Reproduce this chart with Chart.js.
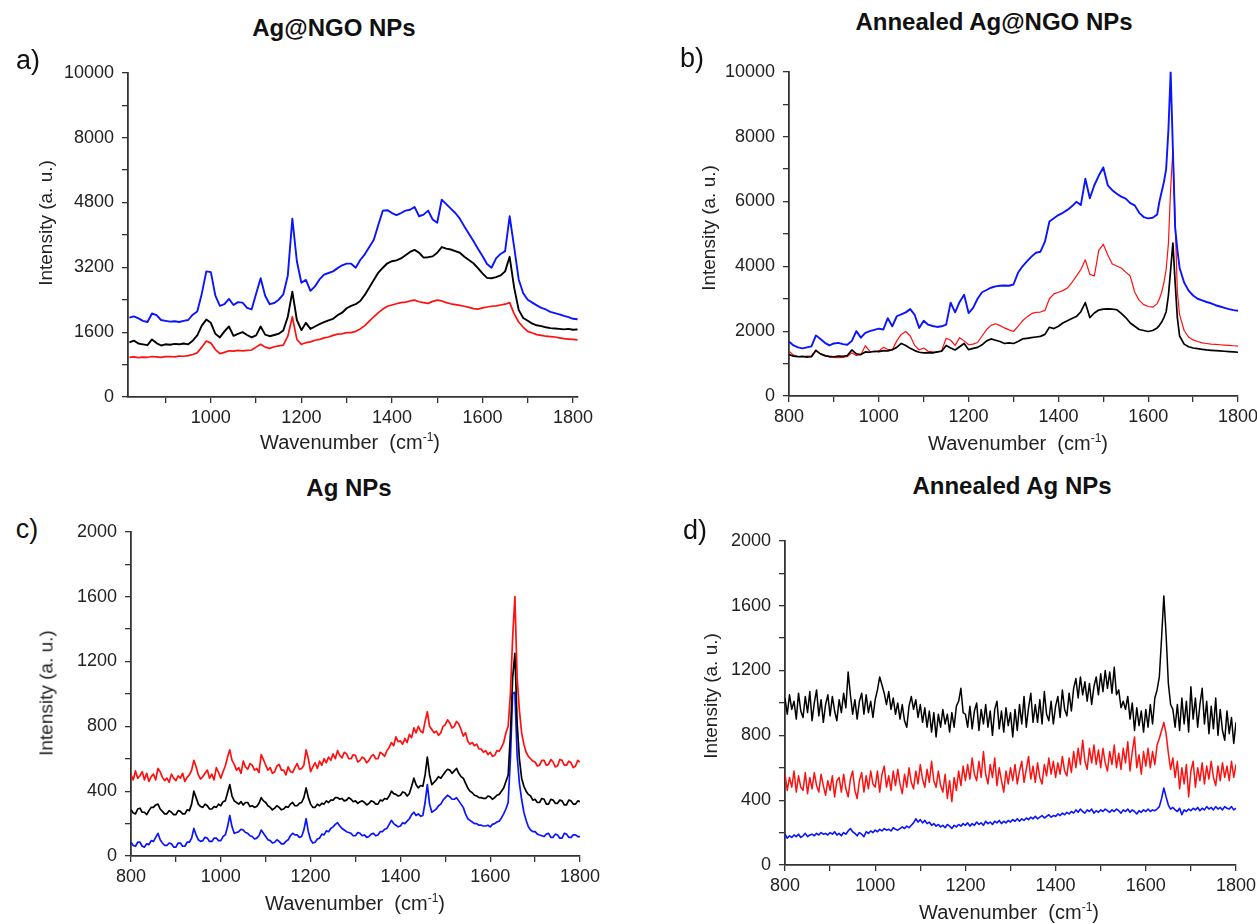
<!DOCTYPE html>
<html>
<head>
<meta charset="utf-8">
<script src="https://cdn.jsdelivr.net/npm/chart.js@4.4.1/dist/chart.umd.min.js"></script>
<style>
  html, body { margin: 0; padding: 0; background: #fff; }
  body { width: 1257px; height: 924px; position: relative; overflow: hidden;
         font-family: "Liberation Sans", Arial, sans-serif; color: #111; }
  canvas { position: absolute; }
  .t { position: absolute; transform: translate(-50%, -50%); white-space: nowrap; line-height: 1; }
  .title { font-weight: bold; font-size: 24px; }
  .tag { font-size: 27px; }
  .xt { font-size: 20px; color: #222; }
  .yt { font-size: 19px; color: #222; transform: translate(-50%, -50%) rotate(-90deg); }
  sup { font-size: 12px; vertical-align: 8px; line-height: 0; }
</style>
</head>
<body>
<canvas id="cA"></canvas>
<canvas id="cB"></canvas>
<canvas id="cC"></canvas>
<canvas id="cD"></canvas>

<div class="t title" style="left:334px;top:28px">Ag@NGO NPs</div>
<div class="t title" style="left:994px;top:22px">Annealed Ag@NGO NPs</div>
<div class="t title" style="left:349px;top:488px">Ag NPs</div>
<div class="t title" style="left:1012px;top:486px">Annealed Ag NPs</div>

<div class="t tag" style="left:28px;top:60px">a)</div>
<div class="t tag" style="left:692px;top:58px">b)</div>
<div class="t tag" style="left:27px;top:529px">c)</div>
<div class="t tag" style="left:695px;top:530px">d)</div>

<div class="t yt" style="left:45px;top:223px">Intensity (a. u.)</div>
<div class="t yt" style="left:708px;top:228px">Intensity (a. u.)</div>
<div class="t yt" style="left:46px;top:693px">Intensity (a. u.)</div>
<div class="t yt" style="left:710px;top:696px">Intensity (a. u.)</div>

<div class="t xt" style="left:350px;top:442px">Wavenumber&nbsp;&nbsp;(cm<sup>-1</sup>)</div>
<div class="t xt" style="left:1018px;top:443px">Wavenumber&nbsp;&nbsp;(cm<sup>-1</sup>)</div>
<div class="t xt" style="left:355px;top:903px">Wavenumber&nbsp;&nbsp;(cm<sup>-1</sup>)</div>
<div class="t xt" style="left:1009px;top:912px">Wavenumber&nbsp;&nbsp;(cm<sup>-1</sup>)</div>

<script>
// ---------- (a) Ag@NGO NPs ----------
const wnA = [820,830,840,850,860,870,880,890,900,910,920,930,940,950,960,970,980,990,1000,1010,
  1020,1030,1040,1050,1060,1070,1080,1090,1100,1110,1120,1130,1140,1150,1160,1170,1180,1190,1200,1210,
  1220,1230,1240,1250,1260,1270,1280,1290,1300,1310,1320,1330,1340,1350,1360,1370,1380,1390,1400,1410,
  1420,1430,1440,1450,1460,1470,1480,1490,1500,1510,1520,1530,1540,1550,1560,1570,1580,1590,1600,1610,
  1620,1630,1640,1650,1660,1670,1680,1690,1700,1710,1720,1730,1740,1750,1760,1770,1780,1790,1800,1810];
const blueA = [1960,1990,1940,1880,1850,2060,2020,1900,1880,1860,
  1870,1850,1880,1900,2030,2110,2550,3100,3080,2500,
  2250,2290,2420,2270,2340,2330,2200,2160,2550,2930,
  2500,2290,2320,2400,2530,3000,4400,3350,2820,2890,
  2620,2730,2900,3020,3060,3100,3180,3250,3290,3290,
  3190,3380,3520,3700,3880,4250,4600,4610,4540,4490,
  4540,4600,4620,4690,4460,4500,4600,4380,4300,4870,
  4760,4650,4540,4400,4210,4030,3850,3660,3480,3280,
  3190,3420,3530,3600,4460,3700,2900,2560,2400,2330,
  2260,2200,2160,2100,2070,2040,2000,1970,1930,1920];
const blackA = [1350,1390,1320,1300,1280,1420,1330,1270,1300,1290,
  1310,1300,1320,1300,1390,1520,1760,1910,1830,1560,
  1470,1620,1740,1510,1560,1600,1530,1470,1520,1740,
  1540,1500,1530,1560,1640,1980,2600,1900,1650,1830,
  1680,1740,1800,1850,1890,1930,2020,2080,2190,2250,
  2290,2370,2520,2700,2890,3070,3190,3300,3350,3370,
  3420,3500,3580,3630,3560,3440,3450,3470,3560,3700,
  3660,3640,3600,3560,3460,3380,3300,3180,3050,2940,
  2930,2960,3000,3100,3460,2700,2150,1950,1880,1810,
  1770,1750,1720,1700,1690,1680,1670,1680,1660,1670];
const redA = [980,990,970,985,980,1000,990,980,995,1000,
  990,1010,1005,1020,1050,1090,1230,1380,1330,1170,
  1070,1100,1140,1130,1150,1140,1150,1160,1230,1300,
  1230,1200,1240,1260,1280,1500,1980,1420,1300,1340,
  1360,1400,1420,1460,1480,1520,1550,1560,1590,1590,
  1620,1680,1760,1870,1980,2080,2170,2240,2270,2300,
  2330,2340,2370,2390,2350,2330,2310,2360,2390,2370,
  2330,2300,2280,2260,2240,2210,2180,2170,2200,2220,
  2240,2250,2270,2290,2330,2050,1850,1720,1620,1580,
  1540,1520,1500,1490,1480,1460,1440,1430,1420,1410];
const xTicksA = [900,1000,1100,1200,1300,1400,1500,1600,1700,1800];
const xLabelsA = [1000,1200,1400,1600,1800];
const yTicksA = [0,800,1600,2400,3200,4000,4800,5600,6400,7200,8000];
const yLabelsA = ['0','1600','3200','4800','8000','10000'];

// ---------- (b) Annealed Ag@NGO NPs ----------
const wnB = [800,810,820,830,840,850,860,870,880,890,900,910,920,930,940,950,960,970,980,990,
  1000,1010,1020,1030,1040,1050,1060,1070,1080,1090,1100,1110,1120,1130,1140,1150,1160,1170,1180,1190,
  1200,1210,1220,1230,1240,1250,1260,1270,1280,1290,1300,1310,1320,1330,1340,1350,1360,1370,1380,1390,
  1400,1410,1420,1430,1440,1450,1460,1470,1480,1490,1500,1510,1520,1530,1540,1550,1560,1570,1580,1590,
  1600,1610,1620,1625,1630,1635,1640,1645,1650,1655,1660,1665,
  1670,1680,1690,1700,1710,1720,1730,1740,1750,1760,1770,1780,1790,1800];
const blueB = [1680,1560,1500,1470,1500,1530,1870,1760,1640,1560,
  1620,1640,1600,1580,1700,2000,1800,1950,2000,2040,
  2080,2050,2400,2150,2460,2520,2580,2680,2500,2100,
  2320,2200,2160,2130,2150,2200,2880,2580,2900,3120,
  2560,2720,3000,3200,3270,3340,3380,3400,3410,3400,
  3440,3800,4000,4150,4300,4420,4450,4760,5380,5480,
  5580,5650,5740,5850,5990,5890,6700,6100,6500,6800,
  7050,6500,6350,6240,6150,6090,5950,5880,5650,5520,
  5480,5500,5600,6000,6300,6600,7000,8200,10000,7600,5200,4500,
  3950,3500,3250,3100,3000,2950,2900,2860,2800,2760,2720,2680,2650,2630];
const redB = [1380,1260,1220,1210,1230,1240,1420,1300,1260,1200,
  1190,1180,1190,1220,1330,1250,1270,1550,1380,1360,
  1390,1500,1440,1420,1700,1900,1990,1850,1560,1420,
  1480,1380,1360,1350,1400,1780,1720,1560,1800,1700,
  1580,1600,1650,1850,2050,2180,2230,2170,2100,2040,
  1990,2150,2320,2440,2540,2580,2590,2640,3000,3150,
  3200,3250,3330,3500,3700,3900,4200,3750,3700,4500,
  4680,4350,4070,4010,3950,3820,3700,3200,2950,2820,
  2760,2740,2850,3000,3200,3500,3900,4700,6400,7600,5400,3200,
  2500,2020,1820,1730,1680,1640,1620,1600,1590,1580,1570,1560,1550,1540];
const blackB = [1280,1230,1210,1220,1200,1210,1400,1300,1240,1220,
  1210,1230,1220,1250,1420,1300,1280,1360,1350,1380,
  1370,1400,1390,1430,1500,1620,1560,1470,1400,1350,
  1330,1340,1330,1360,1380,1560,1480,1420,1520,1620,
  1430,1470,1500,1580,1700,1760,1720,1680,1620,1640,
  1620,1680,1760,1780,1800,1820,1840,1900,2120,2080,
  2150,2250,2320,2390,2450,2600,2880,2420,2560,2650,
  2680,2690,2680,2660,2550,2420,2250,2150,2050,2020,
  1990,2020,2100,2180,2280,2420,2600,3100,3900,4720,3500,2400,
  1850,1600,1520,1480,1460,1440,1420,1410,1400,1390,1380,1370,1360,1350];
const xTicksB = [800,900,1000,1100,1200,1300,1400,1500,1600,1700,1800];
const xLabelsB = [800,1000,1200,1400,1600,1800];
const yTicksB = [0,1000,2000,3000,4000,5000,6000,7000,8000,9000,10000];
const yLabelsB = ['0','2000','4000','6000','8000','10000'];

// ---------- shared 5 cm-1 grid for (c) and (d) ----------
const wnFine = [800,805,810,815,820,825,830,835,840,845,850,855,860,865,870,875,880,885,890,895,
  900,905,910,915,920,925,930,935,940,945,950,955,960,965,970,975,980,985,990,995,
  1000,1005,1010,1015,1020,1025,1030,1035,1040,1045,1050,1055,1060,1065,1070,1075,1080,1085,1090,1095,
  1100,1105,1110,1115,1120,1125,1130,1135,1140,1145,1150,1155,1160,1165,1170,1175,1180,1185,1190,1195,
  1200,1205,1210,1215,1220,1225,1230,1235,1240,1245,1250,1255,1260,1265,1270,1275,1280,1285,1290,1295,
  1300,1305,1310,1315,1320,1325,1330,1335,1340,1345,1350,1355,1360,1365,1370,1375,1380,1385,1390,1395,
  1400,1405,1410,1415,1420,1425,1430,1435,1440,1445,1450,1455,1460,1465,1470,1475,1480,1485,1490,1495,
  1500,1505,1510,1515,1520,1525,1530,1535,1540,1545,1550,1555,1560,1565,1570,1575,1580,1585,1590,1595,
  1600,1605,1610,1615,1620,1625,1630,1635,1640,1645,1650,1655,1660,1665,1670,1675,1680,1685,1690,1695,
  1700,1705,1710,1715,1720,1725,1730,1735,1740,1745,1750,1755,1760,1765,1770,1775,1780,1785,1790,1795,1800];

// ---------- (c) Ag NPs ----------
const redC = [500,470,525,480,495,520,470,510,460,490,505,470,540,520,485,465,480,455,505,480,
  465,495,480,510,460,485,500,530,590,550,500,475,490,510,530,480,505,470,545,515,
  480,520,555,610,655,590,565,530,545,510,585,550,535,570,560,530,540,515,625,595,
  560,530,545,510,520,555,565,530,530,500,550,520,515,545,570,535,540,560,655,600,
  520,550,575,540,585,560,600,575,610,590,630,600,650,620,605,640,630,600,600,625,
  620,580,590,610,600,575,590,615,625,600,600,640,630,615,650,670,700,680,735,705,
  710,690,725,700,750,730,790,760,800,770,760,830,890,800,780,760,770,745,760,800,
  810,840,820,790,800,830,815,780,740,760,710,690,700,680,690,660,660,640,650,625,
  640,615,620,650,645,670,700,760,800,1000,1350,1600,1100,900,760,690,640,615,600,585,
  580,555,560,590,590,560,565,595,580,550,555,595,590,560,560,585,575,545,555,590,580];
const blackC = [285,265,260,290,295,270,270,255,280,300,300,315,320,290,275,260,260,280,270,255,
  255,280,275,260,260,285,280,320,400,360,320,305,300,320,310,290,290,305,300,320,
  310,335,340,390,440,370,340,330,320,335,315,330,330,305,310,300,305,325,360,340,
  330,310,300,285,295,310,300,285,290,305,300,320,330,310,310,325,330,360,420,360,
  320,300,300,320,310,325,320,340,330,345,345,360,360,350,355,340,345,360,350,335,
  340,325,335,340,330,315,325,340,335,320,320,345,340,355,350,370,400,385,380,370,
  375,395,390,370,385,430,480,440,420,435,430,500,610,500,440,455,470,490,480,500,
  520,535,530,510,525,540,510,490,480,450,420,400,390,375,370,360,360,355,355,370,
  365,350,360,375,380,400,420,460,500,750,1100,1250,820,600,480,430,400,380,370,345,
  350,330,330,355,350,320,320,350,345,325,325,345,340,315,315,345,340,320,320,340,335];
const blueC = [85,65,60,85,85,60,55,75,70,95,90,115,140,100,80,65,65,80,75,55,
  55,80,80,60,60,85,85,110,170,130,100,90,95,115,110,90,90,110,110,95,
  95,120,130,180,250,180,140,145,150,165,160,145,140,125,120,105,110,125,160,140,
  120,100,95,80,85,100,90,75,75,90,100,125,140,130,130,115,120,160,230,150,
  100,80,85,105,110,135,130,155,150,170,180,195,205,185,170,160,150,145,140,125,
  125,145,140,125,130,115,120,135,140,125,130,150,150,165,170,195,220,200,190,180,
  185,205,200,215,230,255,270,250,260,245,250,330,440,320,270,280,290,310,320,345,
  360,375,365,350,350,360,340,320,300,260,230,220,210,200,200,190,190,185,185,190,
  180,195,200,210,215,235,260,290,330,600,1000,1010,620,450,350,270,220,180,160,150,
  150,135,130,125,120,135,140,115,115,135,130,110,110,140,135,115,115,130,130,120,120];
const xTicksC = [800,900,1000,1100,1200,1300,1400,1500,1600,1700,1800];
const xLabelsC = [800,1000,1200,1400,1600,1800];
const yTicksC = [0,200,400,600,800,1000,1200,1400,1600,1800,2000];
const yLabelsC = ['0','400','800','1200','1600','2000'];

// ---------- (d) Annealed Ag NPs ----------
const blackD = [1030,930,1050,960,1010,900,1060,950,910,1040,940,1070,890,1000,1080,920,1020,880,990,1050,
  920,1040,950,890,1020,940,1060,970,1190,1050,930,1020,900,1010,1060,930,1050,940,1010,910,
  1020,1080,1160,1110,1060,990,1070,960,1030,930,1000,900,990,890,850,980,1040,960,1020,910,
  990,880,970,850,950,820,940,790,930,850,960,870,930,820,940,850,980,1010,1090,940,
  930,850,980,840,950,1000,830,960,870,990,850,950,800,960,1010,840,950,820,970,860,
  940,790,960,830,990,870,1040,850,970,1060,880,990,880,1020,870,1070,930,890,1010,870,
  980,1040,910,1080,960,920,1060,950,1090,1150,1030,1160,1050,1130,1010,1120,990,1100,1160,1050,
  1180,1070,1200,1090,1190,1060,1220,1050,1080,970,1010,960,1040,900,1000,830,970,860,950,820,
  960,850,990,870,1030,1080,1160,1400,1660,1420,1120,990,960,850,990,830,1030,870,1010,820,
  1100,900,1030,850,990,1090,870,1010,810,980,840,1030,800,960,830,770,950,810,910,750,880];
const redD = [560,460,540,480,580,450,550,480,460,570,440,540,470,570,490,450,560,490,430,520,
  460,550,420,520,540,450,560,470,420,530,580,460,410,520,570,450,550,470,580,500,
  480,580,450,560,610,480,550,460,580,490,590,500,440,560,480,600,510,470,580,500,
  620,530,480,590,510,640,520,480,580,490,450,560,410,520,390,540,460,580,490,610,
  520,620,530,660,560,520,640,540,700,560,500,620,540,660,490,600,520,450,580,500,
  600,520,620,500,580,640,510,590,670,530,610,510,630,540,500,620,550,660,560,640,
  540,630,560,670,580,550,660,570,700,600,720,620,770,640,590,720,630,740,620,710,
  600,720,630,580,700,620,740,600,690,590,720,630,760,580,700,790,600,680,560,700,
  610,720,600,700,620,740,780,830,880,810,690,590,660,540,640,470,600,500,620,420,
  580,640,480,600,520,630,500,610,530,640,540,490,610,520,630,540,610,520,640,540,620];
const blueD = [190,165,180,170,185,175,190,170,180,195,175,185,190,180,195,185,200,190,195,185,
  200,190,205,185,195,180,200,190,210,225,205,195,180,200,190,175,205,195,210,200,
  215,205,220,210,225,215,220,210,230,220,215,225,235,225,240,230,245,260,285,265,
  280,260,275,255,265,245,255,240,250,235,245,230,250,240,225,245,235,250,240,255,
  245,260,240,255,245,265,250,260,245,270,255,265,250,270,260,275,255,270,260,275,
  265,280,270,285,270,285,275,290,280,295,285,300,285,295,305,290,300,310,295,305,
  300,315,305,320,310,325,315,330,320,340,325,345,330,320,340,330,345,320,335,325,
  340,330,345,335,325,340,330,345,335,320,340,330,345,325,340,330,315,335,325,340,
  330,345,330,340,335,345,360,410,475,420,370,345,355,340,330,350,310,340,330,345,
  335,350,340,355,335,350,340,360,345,355,340,360,345,355,340,360,350,345,360,340,350];
const xTicksD = [800,900,1000,1100,1200,1300,1400,1500,1600,1700,1800];
const xLabelsD = [800,1000,1200,1400,1600,1800];
const yTicksD = [0,200,400,600,800,1000,1200,1400,1600,1800,2000];
const yLabelsD = ['0','400','800','1200','1600','2000'];

// ---------- drawing ----------
const BLUE = '#0a14ff', BLACK = '#000000', RED = '#ff1010';
const AX_W = 90, PAD_T = 15, PAD_R = 30, AX_H = 40;
const TICK_FONT = { family: '"Liberation Sans", Arial, sans-serif', size: 18 };

function toPoints(xs, ys) {
  if (xs.length !== ys.length) throw new Error('length mismatch ' + xs.length + ' vs ' + ys.length);
  return xs.map((x, i) => ({ x: x, y: ys[i] }));
}

function drawPanel(id, area, xs, series, xr, xTicks, xLabels, yr, yTicks, yLabelOf) {
  const cv = document.getElementById(id);
  cv.width = AX_W + area.w + PAD_R;
  cv.height = PAD_T + area.h + AX_H;
  cv.style.left = (area.x - AX_W) + 'px';
  cv.style.top = (area.y - PAD_T) + 'px';
  const axisGrid = { display: true, drawOnChartArea: false, drawTicks: true, tickLength: 6, color: '#333', lineWidth: 1.3 };
  const axisBorder = { display: true, color: '#333', width: 1.8 };
  new Chart(cv, {
    type: 'line',
    data: {
      datasets: series.map(s => ({
        data: toPoints(xs, s.y), borderColor: s.c, borderWidth: s.w,
        pointRadius: 0, tension: 0, fill: false, borderJoinStyle: 'round'
      }))
    },
    options: {
      responsive: false, animation: false, events: [],
      layout: { padding: { left: 0, top: PAD_T, right: PAD_R, bottom: 0 } },
      plugins: { legend: { display: false }, tooltip: { enabled: false }, title: { display: false } },
      scales: {
        x: {
          type: 'linear', min: xr[0], max: xr[1],
          grid: axisGrid, border: axisBorder,
          afterBuildTicks: s => { s.ticks = xTicks.map(v => ({ value: v })); },
          afterFit: s => { s.height = AX_H; },
          ticks: { autoSkip: false, maxRotation: 0, padding: 4, color: '#222', font: TICK_FONT,
                   callback: v => (xLabels.indexOf(v) >= 0 ? String(v) : '') }
        },
        y: {
          type: 'linear', min: yr[0], max: yr[1],
          grid: axisGrid, border: axisBorder,
          afterBuildTicks: s => { s.ticks = yTicks.map(v => ({ value: v })); },
          afterFit: s => { s.width = AX_W; },
          ticks: { autoSkip: false, padding: 8, color: '#222', font: TICK_FONT, callback: yLabelOf }
        }
      }
    }
  });
}

drawPanel('cA', { x: 128, y: 69, w: 450, h: 328 }, wnA,
  [{ y: blueA, c: BLUE, w: 1.9 }, { y: blackA, c: BLACK, w: 1.9 }, { y: redA, c: RED, w: 1.7 }],
  [817, 1811], xTicksA, xLabelsA, [0, 8000], yTicksA,
  v => (v % 1600 === 0 ? yLabelsA[v / 1600] : ''));

drawPanel('cB', { x: 789, y: 68, w: 449, h: 328 }, wnB,
  [{ y: blueB, c: BLUE, w: 1.9 }, { y: blackB, c: BLACK, w: 1.7 }, { y: redB, c: RED, w: 1.2 }],
  [800, 1800], xTicksB, xLabelsB, [0, 10000], yTicksB,
  v => (v % 2000 === 0 ? yLabelsB[v / 2000] : ''));

drawPanel('cC', { x: 131, y: 528, w: 449, h: 328 }, wnFine,
  [{ y: redC, c: RED, w: 1.7 }, { y: blackC, c: BLACK, w: 1.7 }, { y: blueC, c: BLUE, w: 1.7 }],
  [800, 1800], xTicksC, xLabelsC, [0, 2000], yTicksC,
  v => (v % 400 === 0 ? yLabelsC[v / 400] : ''));

drawPanel('cD', { x: 785, y: 537, w: 451, h: 328 }, wnFine,
  [{ y: blackD, c: BLACK, w: 1.5 }, { y: redD, c: RED, w: 1.5 }, { y: blueD, c: BLUE, w: 1.6 }],
  [800, 1800], xTicksD, xLabelsD, [0, 2000], yTicksD,
  v => (v % 400 === 0 ? yLabelsD[v / 400] : ''));
</script>
</body>
</html>
